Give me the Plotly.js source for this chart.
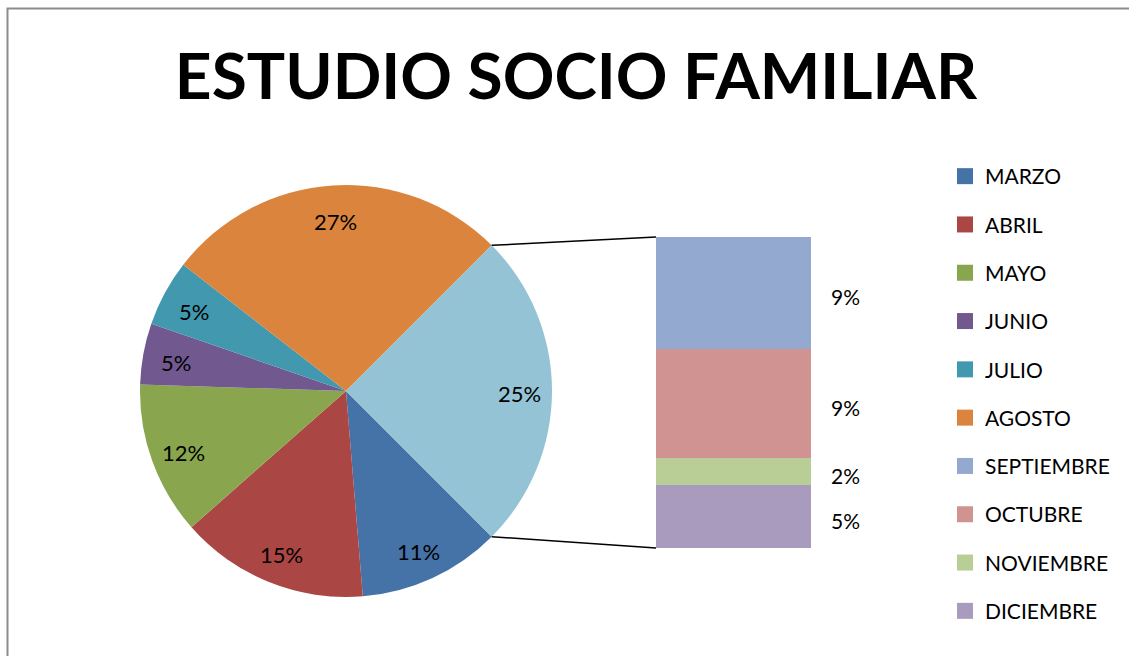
<!DOCTYPE html>
<html>
<head>
<meta charset="utf-8">
<script src="https://cdn.plot.ly/plotly-3.0.1.min.js"></script>
<style>html,body{margin:0;padding:0;background:#fff;}#chart{width:1129px;height:656px;}</style>
</head>
<body>
<div id="chart"></div>
<script>
// ---- data ----
const titleText = "ESTUDIO SOCIO FAMILIAR";
const pieLabels = ["MARZO", "ABRIL", "MAYO", "JUNIO", "JULIO", "AGOSTO", "Otro"];
const pieValues = [11.2, 14.8, 12.0, 4.8, 5.2, 27.0];
const pieColors = ["#4572A7", "#AA4643", "#89A54E", "#71588F", "#4198AF", "#DB843D", "#93C3D5"];
const barLabels = ["SEPTIEMBRE", "OCTUBRE", "NOVIEMBRE", "DICIEMBRE"];
const barValues = [9.0, 8.8, 2.1, 5.1];
const barColors = ["#93A9CF", "#D19392", "#B9CD96", "#A99BBD"];

const W = 1129, H = 656;
const FONT = "Lato, 'Liberation Sans', sans-serif";

const otherValue = barValues.reduce((a, b) => a + b, 0);
const allPieValues = pieValues.concat([otherValue]);
const total = allPieValues.reduce((a, b) => a + b, 0);
const pct = v => Math.round(v / total * 100) + "%";

// geometry (layout only)
const pieDomX = [140 / W, 552 / W];
const pieDomY = [1 - 597 / H, 1 - 185 / H];
const barDomX = [656 / W, 811 / W];
const barDomY = [1 - 548 / H, 1 - 237 / H];
const rotation = 135;
const labelRadius = 0.84;

const traces = [];
traces.push({
  type: "pie",
  labels: pieLabels,
  values: allPieValues,
  sort: false,
  direction: "clockwise",
  rotation: rotation,
  marker: {colors: pieColors, line: {width: 0}},
  textposition: "none",
  domain: {x: pieDomX, y: pieDomY},
  showlegend: false,
  hoverinfo: "label+percent"
});

// stacked bar: bottom to top = DICIEMBRE ... SEPTIEMBRE
for (let i = barLabels.length - 1; i >= 0; i--) {
  traces.push({
    type: "bar",
    x: [0],
    y: [barValues[i]],
    name: barLabels[i],
    marker: {color: barColors[i], line: {width: 0}},
    showlegend: false,
    hoverinfo: "name+y"
  });
}

// legend entries
const legendNames = pieLabels.slice(0, 6).concat(barLabels);
const legendColors = pieColors.slice(0, 6).concat(barColors);
legendNames.forEach((n, i) => {
  traces.push({
    type: "scatter",
    mode: "markers",
    x: [null], y: [null],
    name: n,
    legendgroup: n,
    marker: {symbol: "square", size: 16, color: legendColors[i]},
    showlegend: true,
    hoverinfo: "skip"
  });
});

const annotations = [];

// bar labels
let cum = 0;
for (let i = barLabels.length - 1; i >= 0; i--) {
  const mid = cum + barValues[i] / 2;
  cum += barValues[i];
  annotations.push({
    xref: "x", yref: "y",
    x: 0.5, y: mid,
    xanchor: "left", yanchor: "middle",
    xshift: 18, yshift: -4,
    text: pct(barValues[i]),
    showarrow: false,
    font: {family: FONT, size: 21, color: "#000"}
  });
}

// pie geometry in pixels
const cx = (pieDomX[0] + pieDomX[1]) / 2 * W;
const cy = (1 - (pieDomY[0] + pieDomY[1]) / 2) * H;
const r = Math.min((pieDomX[1] - pieDomX[0]) * W, (pieDomY[1] - pieDomY[0]) * H) / 2;
function piePt(bearing, rr) {
  const t = bearing * Math.PI / 180;
  return [(cx + rr * Math.sin(t)) / W, 1 - (cy - rr * Math.cos(t)) / H];
}

// pie percent labels (placed like the original's best-fit labels)
let acc = 0;
allPieValues.forEach((v, i) => {
  const midBearing = rotation + (acc + v / 2) / total * 360;
  acc += v;
  const p = piePt(midBearing, r * labelRadius);
  annotations.push({
    xref: "paper", yref: "paper",
    x: p[0], y: p[1],
    xanchor: "center", yanchor: "middle",
    yshift: -3,
    text: pct(v),
    showarrow: false,
    font: {family: FONT, size: 22, color: "#000"}
  });
});

// connector lines from pie "other" slice edges to bar corners
const startOther = rotation + (pieValues.reduce((a, b) => a + b, 0) / total) * 360;
const endOther = startOther + otherValue / total * 360;
const pTop = piePt(startOther, r);
const pBot = piePt(endOther, r);
const shapes = [
  {type: "line", xref: "paper", yref: "paper", x0: pTop[0], y0: pTop[1], x1: barDomX[0], y1: barDomY[1], line: {color: "#000", width: 1.5}},
  {type: "line", xref: "paper", yref: "paper", x0: pBot[0], y0: pBot[1], x1: barDomX[0], y1: barDomY[0], line: {color: "#000", width: 1.5}},
  {type: "rect", xref: "paper", yref: "paper", x0: 7.5 / W, y0: -0.05, x1: 1.05, y1: 1 - 8.5 / H, line: {color: "#8c8c8c", width: 2}, fillcolor: "rgba(0,0,0,0)", layer: "below"}
];

const layout = {
  width: W, height: H,
  margin: {l: 0, r: 0, t: 0, b: 0},
  paper_bgcolor: "#fff",
  plot_bgcolor: "rgba(0,0,0,0)",
  title: {
    text: "<b>" + titleText + "</b>",
    font: {family: FONT, size: 64, color: "#000"},
    x: 576 / W, xanchor: "center",
    y: 1 - 77 / H, yanchor: "middle"
  },
  barmode: "stack",
  bargap: 0,
  xaxis: {domain: barDomX, range: [-0.5, 0.5], visible: false, fixedrange: true},
  yaxis: {domain: barDomY, range: [0, otherValue], visible: false, fixedrange: true},
  showlegend: true,
  legend: {
    x: 945 / W, xanchor: "left",
    y: 1 - 156 / H, yanchor: "top",
    traceorder: "grouped",
    tracegroupgap: 18,
    font: {family: FONT, size: 21, color: "#000"},
    bgcolor: "rgba(0,0,0,0)"
  },
  annotations: annotations,
  shapes: shapes
};

Plotly.newPlot("chart", traces, layout, {displayModeBar: false, staticPlot: true});
</script>
</body>
</html>
